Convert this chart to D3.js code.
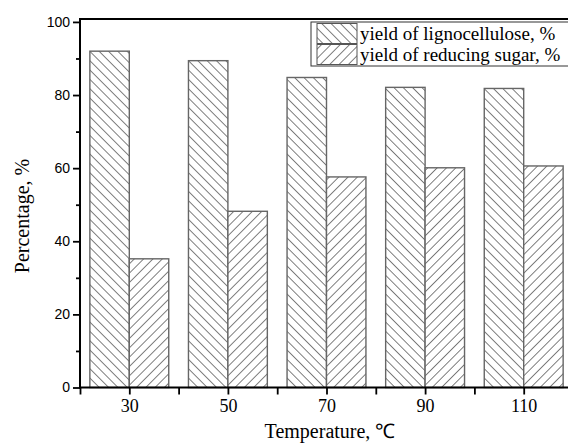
<!DOCTYPE html>
<html>
<head>
<meta charset="utf-8">
<script src="https://cdn.jsdelivr.net/npm/d3@7"></script>
<style>
  html, body { margin: 0; padding: 0; background: #fff; }
  svg { display: block; }
</style>
</head>
<body>
<div id="chart"></div>
<script>
const temps = ['30', '50', '70', '90', '110'];
const lignocellulose = [92.0, 89.4, 84.8, 82.1, 81.8];
const reducingSugar = [35.2, 48.2, 57.6, 60.1, 60.6];
const seriesNames = ['yield of lignocellulose, %', 'yield of reducing sugar, %'];
const yMajor = [0, 20, 40, 60, 80, 100];
const yMinor = [10, 30, 50, 70, 90];

const width = 568;
const height = 443;
const margin = { top: 19, left: 80, bottom: 55.5 };
const step = 98.6;

const svg = d3.select('#chart')
  .append('svg')
  .attr('width', width)
  .attr('height', height);

/* hatch patterns */
const defs = svg.append('defs');
const makeHatch = (id, angle) => {
  const p = defs.append('pattern')
    .attr('id', id)
    .attr('patternUnits', 'userSpaceOnUse')
    .attr('width', 6.6)
    .attr('height', 6.6)
    .attr('patternTransform', `rotate(${angle})`);
  p.append('rect').attr('width', 6.6).attr('height', 6.6).attr('fill', '#fff');
  p.append('line')
    .attr('x1', -1).attr('y1', 3.3).attr('x2', 7.6).attr('y2', 3.3)
    .attr('stroke', '#555').attr('stroke-width', 0.75);
};
makeHatch('hatchBack', 45);
makeHatch('hatchFwd', -45);
const fills = ['url(#hatchBack)', 'url(#hatchFwd)'];

/* scales */
const x = d3.scaleBand()
  .domain(temps)
  .range([margin.left, margin.left + step * temps.length])
  .paddingInner(0.2)
  .paddingOuter(0.1);

const xSub = d3.scaleBand()
  .domain([0, 1])
  .range([0, x.bandwidth()]);

const y = d3.scaleLinear()
  .domain([0, 100.8])
  .range([height - margin.bottom, margin.top]);

const groups = temps.map((t, i) => ({
  t, values: [lignocellulose[i], reducingSugar[i]]
}));

/* bars */
const bars = svg.append('g').attr('class', 'bars');
bars.selectAll('g')
  .data(groups)
  .enter()
  .append('g')
  .attr('transform', (d) => `translate(${x(d.t)},0)`)
  .selectAll('rect')
  .data((d) => d.values)
  .enter()
  .append('rect')
  .attr('x', (d, i) => xSub(i))
  .attr('y', (d) => y(d))
  .attr('width', xSub.bandwidth())
  .attr('height', (d) => y(0) - y(d))
  .attr('fill', (d, i) => fills[i])
  .attr('stroke', '#666')
  .attr('stroke-width', 1.4);

/* frame top */
svg.append('line')
  .attr('x1', margin.left).attr('x2', width + 10)
  .attr('y1', y.range()[1]).attr('y2', y.range()[1])
  .attr('stroke', '#000').attr('stroke-width', 2);

/* y axis */
const yAxis = svg.append('g')
  .attr('transform', `translate(${margin.left},0)`)
  .call(d3.axisLeft(y).tickValues(yMajor).tickSize(7).tickPadding(3));
yAxis.select('.domain').remove();
svg.append('g')
  .attr('transform', `translate(${margin.left},0)`)
  .call(d3.axisLeft(y).tickValues(yMinor).tickSize(4).tickFormat(''))
  .select('.domain').remove();
svg.append('line')
  .attr('x1', margin.left).attr('x2', margin.left)
  .attr('y1', y(0) + 1).attr('y2', y.range()[1] - 1)
  .attr('stroke', '#000').attr('stroke-width', 2);
yAxis.selectAll('text')
  .attr('font-family', 'Liberation Sans, Arial, sans-serif')
  .attr('font-size', 14)
  .attr('fill', '#000');

/* x axis */
const xCenter = (t) => x(t) + x.bandwidth() / 2;
const xLin = d3.scaleLinear().domain([0, width]).range([0, width]);
const boundaries = temps.map((t) => xCenter(t) - step / 2);

const xAxis = svg.append('g')
  .attr('transform', `translate(0,${y(0)})`)
  .call(d3.axisBottom(xLin)
    .tickValues(temps.map(xCenter))
    .tickFormat((d, i) => temps[i])
    .tickSize(7)
    .tickPadding(5));
xAxis.select('.domain').remove();
svg.append('g')
  .attr('transform', `translate(0,${y(0)})`)
  .call(d3.axisBottom(xLin).tickValues(boundaries).tickSize(7).tickFormat(''))
  .select('.domain').remove();
svg.append('line')
  .attr('x1', margin.left - 1).attr('x2', width + 10)
  .attr('y1', y(0)).attr('y2', y(0))
  .attr('stroke', '#000').attr('stroke-width', 2);
xAxis.selectAll('text')
  .attr('font-family', 'Liberation Serif, Times New Roman, serif')
  .attr('font-size', 18)
  .attr('fill', '#000');

svg.selectAll('.tick line').attr('stroke', '#000').attr('stroke-width', 1.8);

/* axis titles */
svg.append('text')
  .attr('x', 330)
  .attr('y', 438)
  .attr('text-anchor', 'middle')
  .attr('font-family', 'Liberation Serif, Times New Roman, serif')
  .attr('font-size', 20)
  .text('Temperature, ℃');

svg.append('text')
  .attr('transform', 'translate(29,216) rotate(-90)')
  .attr('text-anchor', 'middle')
  .attr('font-family', 'Liberation Serif, Times New Roman, serif')
  .attr('font-size', 20)
  .text('Percentage, %');

/* legend */
const legend = svg.append('g').attr('transform', 'translate(311,22)');
legend.append('rect')
  .attr('width', 280).attr('height', 44)
  .attr('fill', '#fff').attr('stroke', '#333').attr('stroke-width', 1);
const items = legend.selectAll('.item')
  .data(seriesNames)
  .enter()
  .append('g')
  .attr('class', 'item')
  .attr('transform', (d, i) => `translate(6,${1.5 + i * 21})`);
items.append('rect')
  .attr('width', 40).attr('height', 20)
  .attr('fill', (d, i) => fills[i])
  .attr('stroke', '#555').attr('stroke-width', 1);
items.append('text')
  .attr('x', 43).attr('y', 16)
  .attr('font-family', 'Liberation Serif, Times New Roman, serif')
  .attr('font-size', 19)
  .text((d) => d);
</script>
</body>
</html>
